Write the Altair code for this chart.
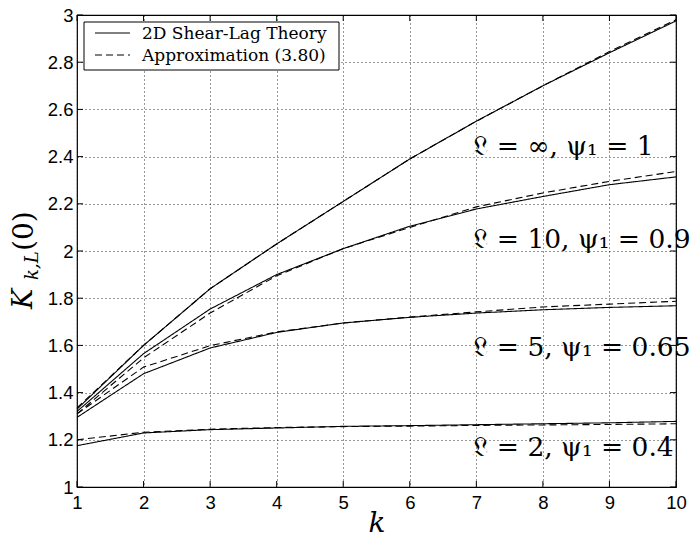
import altair as alt
import pandas as pd

k_vals = [1, 2, 3, 4, 5, 6, 7, 8, 9, 10]

inf_theory = [1.33, 1.60, 1.84, 2.03, 2.21, 2.39, 2.55, 2.70, 2.84, 2.975]
inf_approx = [1.335, 1.60, 1.84, 2.03, 2.21, 2.39, 2.55, 2.70, 2.845, 2.98]
l10_theory = [1.32, 1.565, 1.754, 1.90, 2.01, 2.105, 2.178, 2.231, 2.281, 2.314]
l10_approx = [1.31, 1.547, 1.737, 1.895, 2.01, 2.10, 2.187, 2.246, 2.295, 2.337]
l5_theory = [1.295, 1.48, 1.589, 1.655, 1.695, 1.719, 1.737, 1.751, 1.761, 1.768]
l5_approx = [1.31, 1.508, 1.599, 1.657, 1.695, 1.72, 1.742, 1.763, 1.775, 1.787]
l2_theory = [1.175, 1.229, 1.243, 1.25, 1.257, 1.26, 1.264, 1.268, 1.272, 1.278]
l2_approx = [1.20, 1.232, 1.245, 1.252, 1.256, 1.258, 1.261, 1.263, 1.265, 1.268]

type_names = ["2D Shear-Lag Theory", "Approximation (3.80)"]

labels = ["𝔏 = ∞, ψ₁ = 1", "𝔏 = 10, ψ₁ = 0.9", "𝔏 = 5, ψ₁ = 0.65", "𝔏 = 2, ψ₁ = 0.4"]
label_k = [6.94, 6.94, 6.94, 6.94]
label_y = [2.407, 2.013, 1.555, 1.131]

x_ticks = [1, 2, 3, 4, 5, 6, 7, 8, 9, 10]
y_ticks = [1.0, 1.2, 1.4, 1.6, 1.8, 2.0, 2.2, 2.4, 2.6, 2.8, 3.0]

W, H = 599, 472

rows = []
series = [
    ("inf", inf_theory, inf_approx),
    ("10", l10_theory, l10_approx),
    ("5", l5_theory, l5_approx),
    ("2", l2_theory, l2_approx),
]
for name, th, ap in series:
    for kk, v in zip(k_vals, th):
        rows.append({"k": kk, "K": v, "curve": name, "type": type_names[0]})
    for kk, v in zip(k_vals, ap):
        rows.append({"k": kk, "K": v, "curve": name, "type": type_names[1]})
df = pd.DataFrame(rows)

xs = alt.Scale(domain=[1, 10], nice=False, zero=False)
ys = alt.Scale(domain=[1, 3], nice=False, zero=False)
dash_scale = alt.Scale(domain=type_names, range=[[1, 0], [7, 4]])

x_axis = alt.Axis(values=x_ticks, format="d", grid=True, gridDash=[1, 3], gridColor="#000000",
                  gridOpacity=0.8, ticks=False, domain=False, labelFont="Liberation Sans",
                  labelFontSize=18.5, labelColor="black", labelPadding=6, labelFlush=False,
                  title="k", titleFont="DejaVu Serif", titleFontStyle="italic",
                  titleFontWeight="normal", titleFontSize=28, titleColor="black",
                  titleBaseline="alphabetic", titleY=44)
y_axis = alt.Axis(values=y_ticks, labelExpr="format(datum.value, '.2~f')", grid=True,
                  gridDash=[1, 3], gridColor="#000000", gridOpacity=0.8, ticks=False, domain=False,
                  labelFont="Liberation Sans", labelFontSize=18.5, labelColor="black",
                  labelPadding=4, labelFlush=False, title=None)

lines = alt.Chart(df).mark_line(color="black", strokeWidth=1.1).encode(
    x=alt.X("k:Q", scale=xs, axis=x_axis),
    y=alt.Y("K:Q", scale=ys, axis=y_axis),
    detail=["curve:N", "type:N"],
    strokeDash=alt.StrokeDash("type:N", scale=dash_scale, legend=None),
)

lab_df = pd.DataFrame({"k": label_k, "K": label_y, "text": labels})
texts = alt.Chart(lab_df).mark_text(
    align="left", baseline="alphabetic", font="DejaVu Serif", fontSize=26.5, color="black"
).encode(x=alt.X("k:Q", scale=xs), y=alt.Y("K:Q", scale=ys), text="text:N")

xt = pd.DataFrame({"k": x_ticks})
yt = pd.DataFrame({"K": y_ticks})
tick_len = 6
bt = alt.Chart(xt).mark_rule(color="black", strokeWidth=1).encode(
    x=alt.X("k:Q", scale=xs), y=alt.value(H), y2=alt.value(H - tick_len))
tt = alt.Chart(xt).mark_rule(color="black", strokeWidth=1).encode(
    x=alt.X("k:Q", scale=xs), y=alt.value(0), y2=alt.value(tick_len))
lt = alt.Chart(yt).mark_rule(color="black", strokeWidth=1).encode(
    y=alt.Y("K:Q", scale=ys), x=alt.value(0), x2=alt.value(tick_len))
rt = alt.Chart(yt).mark_rule(color="black", strokeWidth=1).encode(
    y=alt.Y("K:Q", scale=ys), x=alt.value(W - tick_len), x2=alt.value(W))

# legend box (drawn as a key, positioned in pixels)
leg_df = pd.DataFrame({"type": type_names})
leg_box = alt.Chart(pd.DataFrame({"b": [0]})).mark_rect(
    fill="white", stroke="black", strokeWidth=1
).encode(x=alt.value(7), x2=alt.value(262), y=alt.value(7), y2=alt.value(55))
leg_rules = []
leg_texts = []
for i, name in enumerate(type_names):
    sub = leg_df[leg_df["type"] == name]
    leg_rules.append(alt.Chart(sub).mark_rule(color="black", strokeWidth=1).encode(
        x=alt.value(18), x2=alt.value(53), y=alt.value(18 + 22 * i),
        strokeDash=alt.StrokeDash("type:N", scale=dash_scale, legend=None)))
    leg_texts.append(alt.Chart(sub).mark_text(
        align="left", baseline="alphabetic", font="DejaVu Serif", fontSize=17, color="black"
    ).encode(x=alt.value(65), y=alt.value(24 + 22 * i), text="type:N"))

# y-axis title pieces: K_{k,L}(0)
yK = alt.Chart(pd.DataFrame({"t": ["K"]})).mark_text(
    angle=270, align="left", baseline="alphabetic", font="DejaVu Serif",
    fontStyle="italic", fontSize=27, color="black"
).encode(x=alt.value(-45), y=alt.value(294), text="t:N")
ysub = alt.Chart(pd.DataFrame({"t": ["k,L"]})).mark_text(
    angle=270, align="left", baseline="alphabetic", font="DejaVu Serif",
    fontStyle="italic", fontSize=18, color="black"
).encode(x=alt.value(-39), y=alt.value(265), text="t:N")
y0 = alt.Chart(pd.DataFrame({"t": ["(0)"]})).mark_text(
    angle=270, align="left", baseline="alphabetic", font="DejaVu Serif",
    fontSize=28, color="black"
).encode(x=alt.value(-44), y=alt.value(236), text="t:N")

chart = alt.layer(lines, texts, bt, tt, lt, rt, leg_box, *leg_rules, *leg_texts,
                  yK, ysub, y0).properties(
    width=W, height=H,
    autosize=alt.AutoSizeParams(type="none"),
    padding={"left": 77, "top": 15, "right": 21, "bottom": 50},
    background="white",
).configure_view(stroke="black", strokeWidth=1.2)

chart.save("out.html", embed_options={"renderer": "svg", "actions": False})
